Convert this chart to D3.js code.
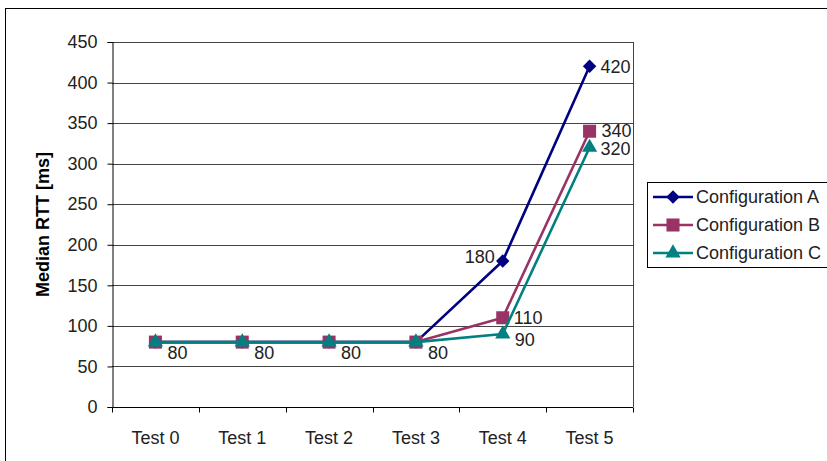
<!DOCTYPE html>
<html>
<head>
<meta charset="utf-8">
<script src="https://cdn.jsdelivr.net/npm/d3@7/dist/d3.min.js"></script>
<style>
  html, body { margin: 0; padding: 0; background: #fff; }
  svg { display: block; }
  text { font-family: "Liberation Sans", Arial, sans-serif; }
</style>
</head>
<body>
<svg id="chart" width="827" height="461"></svg>
<script>
// Median round-trip time per test run
const categories = ["Test 0", "Test 1", "Test 2", "Test 3", "Test 4", "Test 5"];
const seriesNames = ["Configuration A", "Configuration B", "Configuration C"];
const valuesA = [80, 80, 80, 80, 180, 420];
const valuesB = [80, 80, 80, 80, 110, 340];
const valuesC = [80, 80, 80, 80, 90, 320];
const yTicks = [0, 50, 100, 150, 200, 250, 300, 350, 400, 450];

// Where each point's value label sits (null = no label)
const labelSpotsA = [null, null, null, null, "left", "right"];
const labelSpotsB = [null, null, null, null, "right", "rightHigh"];
const labelSpotsC = ["below", "below", "below", "below", "rightLow", "rightLow2"];

const series = [
  { name: seriesNames[0], values: valuesA, labels: labelSpotsA, color: "#000080", marker: "diamond" },
  { name: seriesNames[1], values: valuesB, labels: labelSpotsB, color: "#993366", marker: "square" },
  { name: seriesNames[2], values: valuesC, labels: labelSpotsC, color: "#008080", marker: "triangle" }
];

const FS = 18;
const svg = d3.select("#chart");
const W = 827, H = 461;
const plot = { left: 112, right: 633, top: 42, bottom: 407 };

// Outer chart frame (runs past the right and bottom edges)
svg.append("rect")
  .attr("x", 5.5).attr("y", 8.5)
  .attr("width", W).attr("height", H)
  .attr("fill", "#fff").attr("stroke", "#000").attr("stroke-width", 1);

const x = d3.scaleBand().domain(categories).range([plot.left, plot.right]).padding(0);
const y = d3.scaleLinear().domain([0, 450]).range([plot.bottom, plot.top]);

// Horizontal gridlines
svg.append("g")
  .selectAll("line")
  .data(yTicks.filter(t => t > 0))
  .join("line")
  .attr("x1", plot.left).attr("x2", plot.right)
  .attr("y1", d => Math.round(y(d)) + 0.5).attr("y2", d => Math.round(y(d)) + 0.5)
  .attr("stroke", "#444").attr("stroke-width", 1);

// Right edge of plot area
svg.append("line")
  .attr("x1", plot.right + 0.5).attr("x2", plot.right + 0.5)
  .attr("y1", plot.top).attr("y2", plot.bottom)
  .attr("stroke", "#444").attr("stroke-width", 1);

// Y axis
const yAxis = d3.axisLeft(y).tickValues(yTicks).tickSize(5).tickPadding(10)
  .tickFormat(d3.format("d"));
const gy = svg.append("g")
  .attr("transform", `translate(${plot.left + 0.5},0)`)
  .call(yAxis);
gy.select(".domain").attr("stroke", "#000");
gy.selectAll(".tick line").attr("stroke", "#000");
gy.selectAll(".tick text")
  .attr("font-size", FS).attr("fill", "#222")
  .attr("font-family", "Liberation Sans, Arial, sans-serif");

// X axis with ticks on category boundaries
const gx = svg.append("g")
  .attr("transform", `translate(0,${plot.bottom + 0.5})`);
gx.append("line")
  .attr("x1", plot.left).attr("x2", plot.right)
  .attr("stroke", "#000");
const boundaries = categories.map(c => x(c)).concat([x(categories[categories.length - 1]) + x.bandwidth()]);
gx.selectAll("line.tk")
  .data(boundaries)
  .join("line").attr("class", "tk")
  .attr("x1", d => Math.round(d) + 0.5).attr("x2", d => Math.round(d) + 0.5)
  .attr("y1", 0).attr("y2", 5)
  .attr("stroke", "#000");
gx.selectAll("text")
  .data(categories)
  .join("text")
  .attr("x", d => x(d) + x.bandwidth() / 2)
  .attr("y", 36)
  .attr("text-anchor", "middle")
  .attr("font-size", FS).attr("fill", "#222")
  .text(d => d);

// Y axis title
svg.append("text")
  .attr("transform", `translate(49,${(plot.top + plot.bottom) / 2}) rotate(-90)`)
  .attr("text-anchor", "middle")
  .attr("font-size", FS).attr("font-weight", "bold").attr("fill", "#000")
  .text("Median RTT [ms]");

// Marker shapes
const markerPath = {
  diamond: d3.symbol().type(d3.symbolDiamond2).size(115),
  square: d3.symbol().type(d3.symbolSquare).size(170),
  triangle: d3.symbol().type(d3.symbolTriangle).size(100)
};

const cx = c => x(c) + x.bandwidth() / 2;
const line = d3.line().x((d, i) => cx(categories[i])).y(d => y(d));

series.forEach(s => {
  const g = svg.append("g");
  g.append("path")
    .datum(s.values)
    .attr("d", line)
    .attr("fill", "none")
    .attr("stroke", s.color)
    .attr("stroke-width", 2.6)
    .attr("stroke-linejoin", "round");
  g.selectAll("path.mk")
    .data(s.values)
    .join("path").attr("class", "mk")
    .attr("transform", (d, i) => `translate(${cx(categories[i])},${y(d)})`)
    .attr("d", markerPath[s.marker]())
    .attr("fill", s.color);
});

// Value labels
const offsets = {
  right: { dx: 11, dy: 0, anchor: "start" },
  rightHigh: { dx: 12, dy: -1, anchor: "start" },
  rightLow: { dx: 12, dy: 6, anchor: "start" },
  rightLow2: { dx: 11, dy: 1, anchor: "start" },
  left: { dx: -8, dy: -4, anchor: "end" },
  below: { dx: 12, dy: 11, anchor: "start" }
};
series.forEach(s => {
  s.values.forEach((v, i) => {
    const spot = s.labels[i];
    if (!spot) return;
    const o = offsets[spot];
    svg.append("text")
      .attr("x", cx(categories[i]) + o.dx)
      .attr("y", y(v) + o.dy)
      .attr("dy", "0.35em")
      .attr("text-anchor", o.anchor)
      .attr("font-size", FS).attr("fill", "#222")
      .text(v);
  });
});

// Legend
const legend = svg.append("g");
legend.append("rect")
  .attr("x", 647.5).attr("y", 182.5)
  .attr("width", 200).attr("height", 85)
  .attr("fill", "#fff").attr("stroke", "#000");
series.forEach((s, i) => {
  const ly = 197 + i * 28;
  legend.append("line")
    .attr("x1", 653).attr("x2", 693).attr("y1", ly).attr("y2", ly)
    .attr("stroke", s.color).attr("stroke-width", 2.6);
  legend.append("path")
    .attr("transform", `translate(673,${ly})`)
    .attr("d", markerPath[s.marker]())
    .attr("fill", s.color);
  legend.append("text")
    .attr("x", 696).attr("y", ly).attr("dy", "0.35em")
    .attr("font-size", FS).attr("fill", "#222")
    .text(s.name);
});
</script>
</body>
</html>
